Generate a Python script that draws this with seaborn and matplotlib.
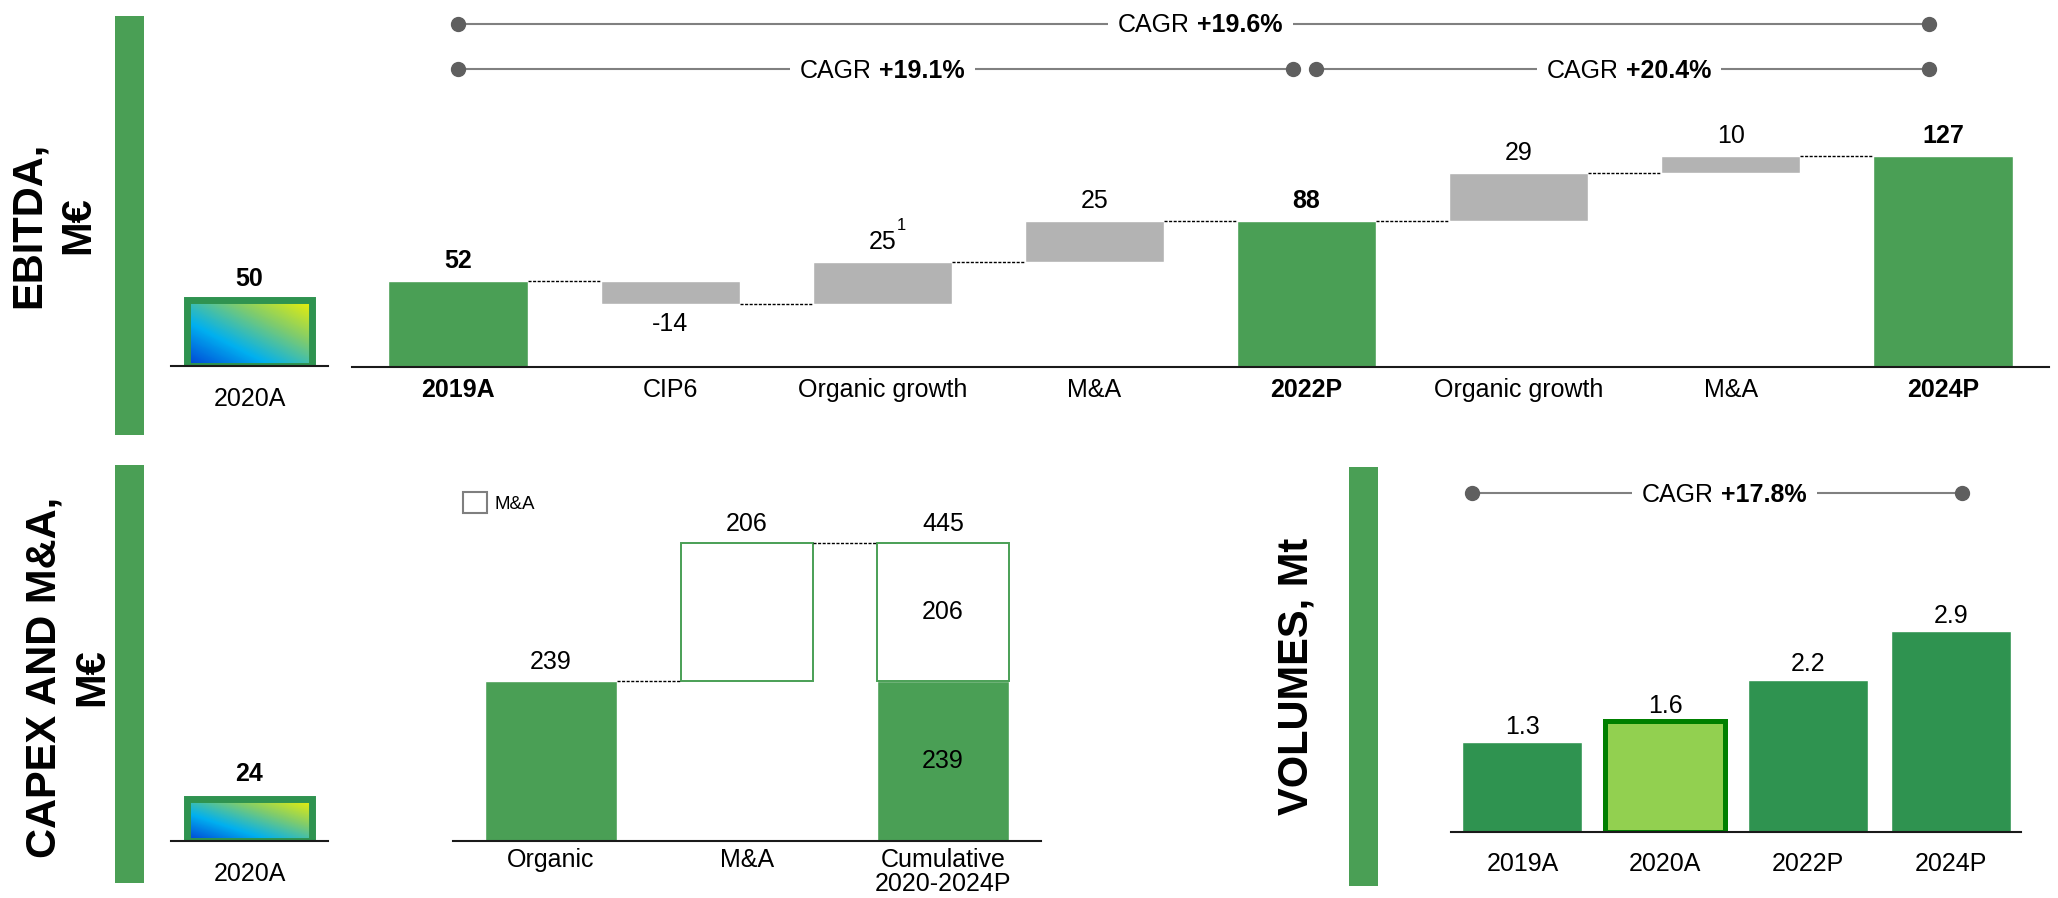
import numpy as np
import pandas as pd
import matplotlib
matplotlib.use('Agg')
import matplotlib.pyplot as plt
import matplotlib.transforms as mtransforms
from matplotlib.colors import LinearSegmentedColormap
from matplotlib.patches import Patch, Rectangle
import seaborn as sns

# EBITDA bridge, M€
ebitda_steps = ['2019A', 'CIP6', 'Organic growth', 'M&A', '2022P', 'Organic growth', 'M&A', '2024P']
ebitda_values = [52, -14, 25, 25, 88, 29, 10, 127]
ebitda_is_total = [True, False, False, False, True, False, False, True]
ebitda_notes = ['', '', '1', '', '', '', '', '']
ebitda_2020 = 50
ebitda_cagr_from = [0, 0, 4]
ebitda_cagr_to = [7, 4, 7]
ebitda_cagr_text = ['+19.6%', '+19.1%', '+20.4%']
ebitda_cagr_row = [0, 1, 1]

# Capex and M&A, M€
capex_steps = ['Organic', 'M&A', 'Cumulative\n2020-2024P']
capex_organic = [239, 0, 239]
capex_mna = [0, 206, 206]
capex_2020 = 24

# Volumes, Mt
vol_years = ['2019A', '2020A', '2022P', '2024P']
vol_values = [1.3, 1.6, 2.2, 2.9]
vol_highlight = '2020A'
vol_cagr_text = '+17.8%'

GREEN = '#4a9f55'
GREEN_DARK = '#2f9350'
GREY = '#b3b3b3'
LIGHT_GREEN = '#92d050'
EDGE_GREEN = '#008000'
LINE_GREY = '#808080'
DOT_GREY = '#5f5f5f'

sns.set_style('white')
plt.rcParams['font.family'] = ['Liberation Sans', 'DejaVu Sans']
plt.rcParams['text.color'] = 'black'
plt.rcParams['xtick.color'] = 'black'

W, H = 2058, 898
fig = plt.figure(figsize=(W / 100, H / 100), dpi=100)

grad_cmap = LinearSegmentedColormap.from_list(
    'box', ['#0040d4', '#00b0f0', '#80cc6c', '#f2f200'])
gx, gy = np.meshgrid(np.linspace(0, 1, 120), np.linspace(0, 1, 60))
grad = (gx + gy) / 2


def px_axes(x0, y0, x1, y1):
    # rectangle in pixels, measured from the top-left corner
    return fig.add_axes([x0 / W, 1 - y1 / H, (x1 - x0) / W, (y1 - y0) / H])


def style_axis(ax, pad):
    sns.despine(ax=ax, left=True)
    ax.spines['bottom'].set_color('#1a1a1a')
    ax.spines['bottom'].set_linewidth(1.5)
    ax.set_yticks([])
    ax.set_xlabel('')
    ax.set_ylabel('')
    ax.tick_params(axis='x', length=0, pad=pad, labelsize=18)


def side_bar(x0, y0, x1, y1):
    fig.add_artist(Rectangle((x0 / W, 1 - y1 / H), (x1 - x0) / W, (y1 - y0) / H,
                             transform=fig.transFigure, facecolor=GREEN, lw=0))


def cagr(ax, x0, x1, y, text):
    trans = mtransforms.blended_transform_factory(ax.transData, ax.transAxes)
    ax.plot([x0, x1], [y, y], transform=trans, color=LINE_GREY, lw=1.5,
            zorder=2, clip_on=False)
    ax.plot([x0, x1], [y, y], transform=trans, ls='none', marker='o', ms=10,
            color=DOT_GREY, zorder=3, clip_on=False)
    xm = (x0 + x1) / 2
    box = dict(boxstyle='square,pad=0.4', fc='white', ec='none')
    ax.annotate('CAGR', (xm, y), xycoords=trans, xytext=(-2.5, -6.2),
                textcoords='offset points', ha='right', va='baseline',
                fontsize=18, bbox=box, zorder=4)
    ax.annotate(text, (xm, y), xycoords=trans, xytext=(2.5, -6.2),
                textcoords='offset points', ha='left', va='baseline',
                fontsize=18, weight='bold', bbox=box, zorder=4)


def inset_2020(x0, x1, base, px_per_unit, value, label_off):
    ax = px_axes(x0, base - 100 * px_per_unit, x1, base)
    sns.barplot(x=['2020A'], y=[value], fill=False, color=GREEN_DARK, linewidth=5,
                width=0.79, errorbar=None, ax=ax)
    bar = ax.patches[0]
    bar.set_zorder(2)
    im = ax.imshow(grad, cmap=grad_cmap, origin='lower', aspect='auto',
                   extent=[bar.get_x(), bar.get_x() + bar.get_width(), 0, value],
                   zorder=1)
    im.set_clip_path(bar)
    ax.set_xlim(-0.5, 0.5)
    ax.set_ylim(0, 100)
    ax.annotate(f'{value}', (0, value), xytext=(0, label_off), textcoords='offset points',
                ha='center', va='baseline', fontsize=18, weight='bold')
    style_axis(ax, 15.3)


# ---------------- EBITDA ----------------
side_bar(115, 16, 144, 435)
fig.text(29 / W, 1 - 225 / H, 'EBITDA,', rotation=90, ha='center', va='center',
         fontsize=30, weight='bold')
fig.text(78 / W, 1 - 225 / H, 'M€', rotation=90, ha='center', va='center',
         fontsize=30, weight='bold')
inset_2020(171, 328, 366, 1.33, ebitda_2020, 10)

ax = px_axes(352, 0, 2049, 367)
bottoms, levels = [], []
run = 0
for v, total in zip(ebitda_values, ebitda_is_total):
    b = 0 if total else run
    bottoms.append(b)
    run = b + v
    levels.append(run)

df = pd.DataFrame({'step': range(len(ebitda_steps)), 'value': ebitda_values})
sns.barplot(data=df, x='step', y='value', bottom=bottoms, color=GREY, saturation=1,
            width=0.656, errorbar=None, ax=ax)
bars = list(ax.patches)
for p, total in zip(bars, ebitda_is_total):
    if total:
        p.set_facecolor(GREEN)

for i in range(len(bars) - 1):
    a, b = bars[i], bars[i + 1]
    ax.plot([a.get_x() + a.get_width(), b.get_x()], [levels[i], levels[i]],
            color='black', lw=1, ls=(0, (2.2, 1.1)))

for i, (v, b, total, note) in enumerate(zip(ebitda_values, bottoms, ebitda_is_total, ebitda_notes)):
    top, low = max(b, b + v), min(b, b + v)
    if v < 0:
        ax.annotate(f'{v}', (i, low), xytext=(0, -6), textcoords='offset points',
                    ha='center', va='top', fontsize=18)
    else:
        ax.annotate(f'{v}', (i, top), xytext=(0, 9.4), textcoords='offset points',
                    ha='center', va='baseline', fontsize=18,
                    weight='bold' if total else 'normal')
    if note:
        ax.annotate(note, (i, top), xytext=(10.5, 23), textcoords='offset points',
                    ha='left', va='baseline', fontsize=12)

ax.set_xlim(-0.5, 7.5)
ax.set_ylim(0, 221)
ax.set_xticks(range(len(ebitda_steps)))
ax.set_xticklabels(ebitda_steps)
style_axis(ax, 8.1)
for lbl, total in zip(ax.get_xticklabels(), ebitda_is_total):
    if total:
        lbl.set_fontweight('bold')

row_y = [0.935, 0.812]
for frm, to, text, row in zip(ebitda_cagr_from, ebitda_cagr_to, ebitda_cagr_text, ebitda_cagr_row):
    x0 = frm + (0.045 if frm > 0 else 0)
    x1 = to - 0.065
    cagr(ax, x0, x1, row_y[row], text)

# ---------------- CAPEX AND M&A ----------------
side_bar(115, 465, 144, 883)
fig.text(45 / W, 1 - 677 / H, 'CAPEX AND M&A,', rotation=90, ha='center', va='center',
         fontsize=30, weight='bold')
fig.text(92 / W, 1 - 677 / H, 'M€', rotation=90, ha='center', va='center',
         fontsize=30, weight='bold')
inset_2020(171, 328, 841, 1.73, capex_2020, 13)

ax = px_axes(453, 470, 1041, 841)
sns.barplot(x=capex_steps, y=capex_organic, color=GREEN, saturation=1, width=0.673,
            errorbar=None, ax=ax)
mna_bottom = np.maximum.accumulate(capex_organic)
sns.barplot(x=capex_steps, y=capex_mna, bottom=mna_bottom, fill=False, color=GREEN,
            linewidth=1.4, width=0.673, errorbar=None, ax=ax)
for p in ax.patches:
    if p.get_height() == 0:
        p.set_visible(False)

levels = []
for i, (o, m, b) in enumerate(zip(capex_organic, capex_mna, mna_bottom)):
    top = b + m if m else o
    levels.append(top)
    ax.annotate(f'{o + m}', (i, top), xytext=(0, 8.3), textcoords='offset points',
                ha='center', va='baseline', fontsize=18)
    if o and m:
        ax.text(i, o / 2, f'{o}', ha='center', va='center', fontsize=18)
        ax.text(i, b + m / 2, f'{m}', ha='center', va='center', fontsize=18)

for i in range(len(capex_steps) - 1):
    half = 0.673 / 2
    ax.plot([i + half, i + 1 - half], [levels[i], levels[i]], color='black', lw=1,
            ls=(0, (2.2, 1.1)))

ax.legend(handles=[Patch(facecolor='white', edgecolor='#7f7f7f', lw=1.5, label='M&A')],
          loc='upper left', bbox_to_anchor=(0.017, 0.94), frameon=False, fontsize=13.5,
          handlelength=1.3, handleheight=1.3, handletextpad=0.4, borderaxespad=0,
          borderpad=0)
ax.set_xlim(-0.5, 2.5)
ax.set_ylim(0, 554)
ax.set_xticks(range(len(capex_steps)))
ax.set_xticklabels(capex_steps)
style_axis(ax, 5)
for lbl in ax.get_xticklabels():
    lbl.set_linespacing(0.98)

# ---------------- VOLUMES ----------------
side_bar(1349, 467, 1378, 886)
fig.text(1296 / W, 1 - 676 / H, 'VOLUMES, Mt', rotation=90, ha='center', va='center',
         fontsize=30, weight='bold')

ax = px_axes(1451, 470, 2021, 832)
sns.barplot(x=vol_years, y=vol_values, color=GREEN_DARK, saturation=1, width=0.84,
            errorbar=None, ax=ax)
hl = ax.patches[vol_years.index(vol_highlight)]
hl.set_facecolor(LIGHT_GREEN)
hl.set_edgecolor(EDGE_GREEN)
hl.set_linewidth(3.6)
for i, v in enumerate(vol_values):
    ax.annotate(f'{v:.1f}', (i, v), xytext=(0, 6), textcoords='offset points',
                ha='center', va='baseline', fontsize=18)
ax.set_xlim(-0.5, 3.49)
ax.set_ylim(0, 5.23)
style_axis(ax, 14.6)
cagr(ax, -0.35, len(vol_years) - 1 + 0.08, 0.936, vol_cagr_text)

fig.savefig('out.png', dpi=100)
